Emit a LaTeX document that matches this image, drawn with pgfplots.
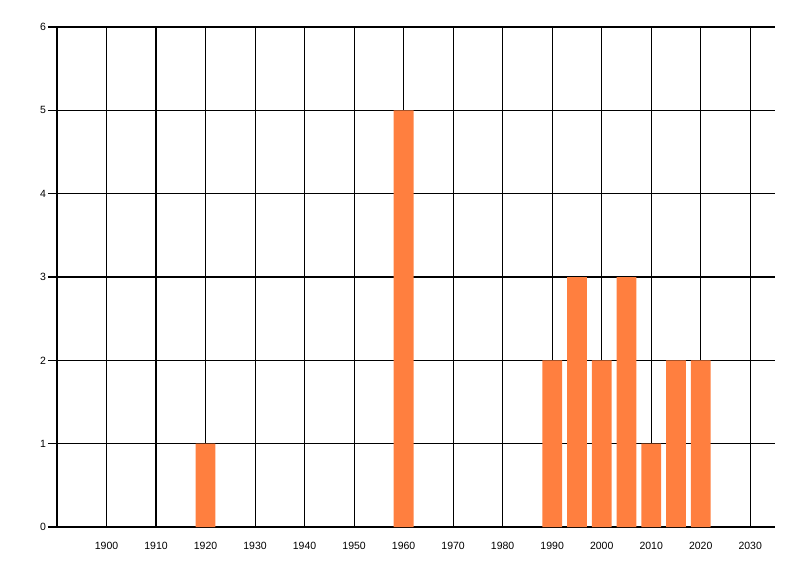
\documentclass[border=0pt]{standalone}
\usepackage{pgfplots}
\pgfplotsset{compat=1.18}
\usepackage{fontspec}
\setmainfont{Liberation Sans}
\definecolor{barorange}{RGB}{255,127,63}
\begin{document}
\begin{tikzpicture}
    \begin{axis}[
            scale only axis,
            width=718pt,
            height=500pt,
            xmin=1890, xmax=2035,
            ymin=0, ymax=6,
            xtick={1900,1910,...,2030},
            ytick={0,1,...,6},
            axis x line*=bottom,
            axis y line*=left,
            axis line style={line width=1.2pt, -},
            grid=major,
            major grid style={black, line width=1.1pt},
            x tick style={draw=none},
            y tick style={black, line width=1.1pt},
            tick align=outside,
            major tick length=9pt,
            /pgf/number format/assume math mode=true,
            /pgf/number format/1000 sep={},
            tick label style={font=\fontsize{10.5}{12}\selectfont},
            xticklabel style={yshift=-3pt},
            yticklabel style={xshift=1.5pt},
            ybar,
            bar width=4,
        ]
        \addplot[fill=barorange, draw=none] coordinates {
            (1920,1) (1960,5) (1990,2) (1995,3) (2000,2)
            (2005,3) (2010,1) (2015,2) (2020,2)
        };
    \end{axis}
    \path[use as bounding box] (current axis.south west) ++(-57pt,-49pt) rectangle ([xshift=25pt,yshift=27pt]current axis.north east);
\end{tikzpicture}
\end{document}
